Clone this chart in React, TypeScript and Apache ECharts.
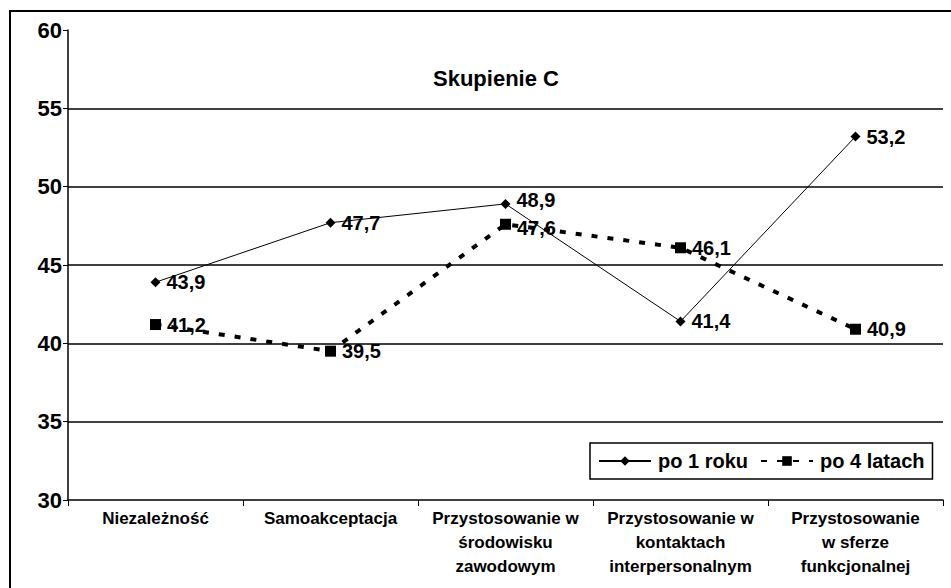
import React, { useEffect, useRef } from "react";
import * as echarts from "echarts";

const categories: string[] = [
  "Niezależność",
  "Samoakceptacja",
  "Przystosowanie w\nśrodowisku\nzawodowym",
  "Przystosowanie w\nkontaktach\ninterpersonalnym",
  "Przystosowanie\nw sferze\nfunkcjonalnej",
];
const seriesNames: string[] = ["po 1 roku", "po 4 latach"];
const after1Year: number[] = [43.9, 47.7, 48.9, 41.4, 53.2];
const after4Years: number[] = [41.2, 39.5, 47.6, 46.1, 40.9];
const titleText = "Skupienie C";

const FONT = "'Liberation Sans', Arial, sans-serif";

export default function App() {
  const ref = useRef<HTMLDivElement>(null);
  useEffect(() => {
    if (!ref.current) return;
    const chart = echarts.init(ref.current, undefined, { renderer: "svg" });
    const fmt = (p: any) => String(p.value).replace(".", ",");
    const labelStyle = {
      show: true,
      position: "right",
      distance: 6,
      formatter: fmt,
      fontFamily: FONT,
      fontSize: 20,
      fontWeight: "bold",
      color: "#000",
    };
    chart.setOption({
      animation: false,
      backgroundColor: "#ffffff",
      textStyle: { fontFamily: FONT, color: "#000" },
      title: {
        text: titleText,
        left: 428,
        top: 62,
        textStyle: { fontFamily: FONT, fontSize: 22, fontWeight: "bold", color: "#000" },
      },
      legend: {
        left: 590,
        top: 443,
        width: 350,
        orient: "horizontal",
        borderColor: "#000",
        borderWidth: 1.5,
        borderRadius: 0,
        padding: [8, 8, 8, 8],
        itemGap: 12,
        itemWidth: 52,
        itemHeight: 12,
        textStyle: { fontFamily: FONT, fontSize: 20, fontWeight: "bold", color: "#000", padding: [0, 0, 0, 2] },
        data: seriesNames,
      },
      graphic: [
        {
          type: "rect",
          shape: { x: 10, y: 11, width: 960, height: 620 },
          style: { fill: "none", stroke: "#000", lineWidth: 2 },
          silent: true,
          z: -1,
        },
      ],
      grid: { left: 68, right: 8, top: 30, bottom: 88, containLabel: false },
      xAxis: {
        type: "category",
        data: categories,
        boundaryGap: true,
        axisLine: { show: true, lineStyle: { color: "#000", width: 1.5 } },
        axisTick: { show: true, length: 6, interval: 0, alignWithLabel: false, lineStyle: { color: "#000" } },
        axisLabel: {
          interval: 0,
          margin: 6,
          fontFamily: FONT,
          fontSize: 17,
          fontWeight: "bold",
          lineHeight: 24,
          color: "#000",
        },
      },
      yAxis: {
        type: "value",
        min: 30,
        max: 60,
        interval: 5,
        axisLine: { show: true, lineStyle: { color: "#000", width: 1.5 } },
        axisTick: { show: true, length: 5, inside: false, lineStyle: { color: "#000" } },
        axisLabel: { fontFamily: FONT, fontSize: 22, fontWeight: "bold", color: "#000", margin: 6 },
        splitLine: { show: true, showMaxLine: false, showMinLine: false, lineStyle: { color: "#000", width: 1.5 } },
      },
      series: [
        {
          name: seriesNames[0],
          type: "line",
          data: after1Year,
          symbol: "diamond",
          symbolSize: 10,
          lineStyle: { color: "#000", width: 1, type: "solid" },
          itemStyle: { color: "#000" },
          label: labelStyle,
          labelLayout: (p: any) => (p.dataIndex === 2 ? { dy: -4 } : {}),
          z: 3,
        },
        {
          name: seriesNames[1],
          type: "line",
          data: after4Years,
          symbol: "rect",
          symbolSize: 11,
          lineStyle: { color: "#000", width: 4, type: [6, 10] },
          itemStyle: { color: "#000" },
          label: labelStyle,
          labelLayout: (p: any) => (p.dataIndex === 2 ? { dy: 4 } : {}),
          z: 2,
        },
      ],
    });
    return () => chart.dispose();
  }, []);
  return (
    <div
      ref={ref}
      style={{ position: "fixed", left: 0, top: 0, width: 951, height: 588, background: "#fff" }}
    />
  );
}
